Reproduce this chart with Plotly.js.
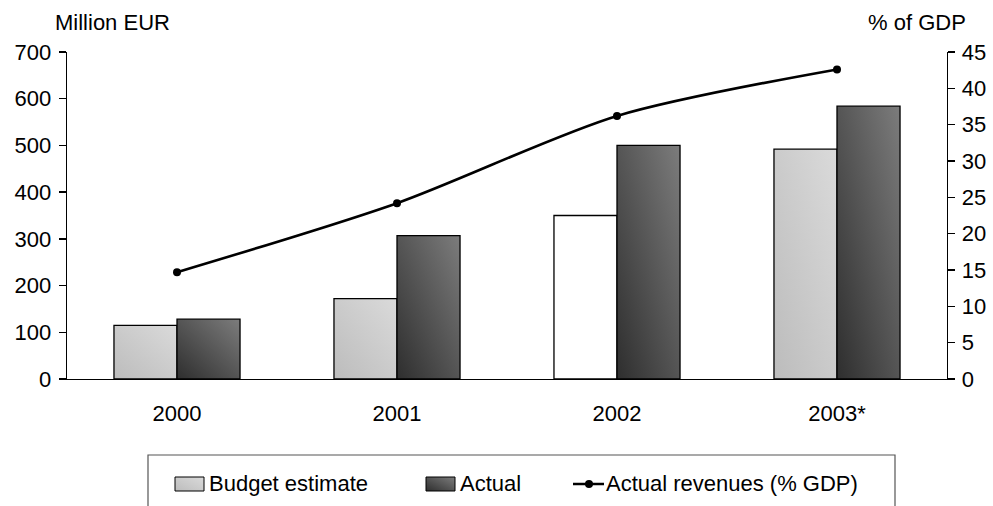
<!DOCTYPE html>
<html>
<head>
<meta charset="utf-8">
<script src="https://cdn.plot.ly/plotly-3.0.1.min.js"></script>
<style>
html,body{margin:0;padding:0;background:#fff;}
#chart{width:993px;height:506px;}
</style>
</head>
<body>
<div id="chart"></div>
<script>
// ---- data ----
var years = ['2000', '2001', '2002', '2003*'];
var budgetEstimate = [115, 172, 350, 492];
var actual = [128, 307, 500, 584];
var revenuesPctGDP = [14.7, 24.2, 36.2, 42.6];
var budgetFill = ['rgb(201,201,201)', 'rgb(201,201,201)', 'rgb(255,255,255)', 'rgb(201,201,201)'];
var legendLabels = ['Budget estimate', 'Actual', 'Actual revenues (% GDP)'];
var leftTitle = 'Million EUR';
var rightTitle = '% of GDP';

var FONT = 'Liberation Sans, Arial, sans-serif';
var FS = 22;
var L = 67, R = 947, T = 52, B = 379;
function px(x){ return (x - L) / (R - L); }
function py(y){ return (B - y) / (B - T); }

var traces = [
  {
    type: 'bar', name: legendLabels[0], x: years, y: budgetEstimate,
    marker: {color: budgetFill, line: {color: '#000', width: 1.3}},
    hoverinfo: 'skip'
  },
  {
    type: 'bar', name: legendLabels[1], x: years, y: actual,
    marker: {color: 'rgb(85,85,85)', line: {color: '#000', width: 1.3}},
    hoverinfo: 'skip'
  },
  {
    type: 'scatter', mode: 'lines+markers', name: legendLabels[2], x: years, y: revenuesPctGDP,
    yaxis: 'y2',
    line: {color: '#000', width: 2.6, shape: 'spline', smoothing: 0.8},
    marker: {color: '#000', size: 8},
    hoverinfo: 'skip', cliponaxis: false
  }
];

var shapes = [
  {type: 'path', xref: 'paper', yref: 'paper',
   path: 'M' + px(148) + ',' + py(530) + ' L' + px(148) + ',' + py(455) + ' L' + px(895) + ',' + py(455) + ' L' + px(895) + ',' + py(530),
   line: {color: '#555', width: 1.2}},
  {type: 'rect', xref: 'paper', yref: 'paper', x0: px(175), x1: px(204), y0: py(491), y1: py(477),
   fillcolor: 'rgb(201,201,201)', line: {color: '#000', width: 1}},
  {type: 'rect', xref: 'paper', yref: 'paper', x0: px(426), x1: px(455), y0: py(491), y1: py(477),
   fillcolor: 'rgb(85,85,85)', line: {color: '#000', width: 1}},
  {type: 'line', xref: 'paper', yref: 'paper', x0: px(573), x1: px(604), y0: py(484), y1: py(484),
   line: {color: '#000', width: 2.5}},
  {type: 'circle', xref: 'paper', yref: 'paper', x0: px(585), x1: px(593), y0: py(488), y1: py(480),
   fillcolor: '#000', line: {color: '#000', width: 0}}
];

var annotations = [
  {text: leftTitle, xref: 'paper', yref: 'paper', x: px(112), y: py(22), xanchor: 'center', yanchor: 'middle',
   showarrow: false, font: {family: FONT, size: FS, color: '#000'}},
  {text: rightTitle, xref: 'paper', yref: 'paper', x: px(917), y: py(22), xanchor: 'center', yanchor: 'middle',
   showarrow: false, font: {family: FONT, size: FS, color: '#000'}},
  {text: legendLabels[0], xref: 'paper', yref: 'paper', x: px(207), y: py(483), xanchor: 'left', yanchor: 'middle',
   showarrow: false, font: {family: FONT, size: FS, color: '#000'}},
  {text: legendLabels[1], xref: 'paper', yref: 'paper', x: px(458), y: py(483), xanchor: 'left', yanchor: 'middle',
   showarrow: false, font: {family: FONT, size: FS, color: '#000'}},
  {text: legendLabels[2], xref: 'paper', yref: 'paper', x: px(604), y: py(483), xanchor: 'left', yanchor: 'middle',
   showarrow: false, font: {family: FONT, size: FS, color: '#000'}}
];

var layout = {
  width: 993, height: 506,
  margin: {l: L, r: 993 - R, t: T, b: 506 - B, pad: 0},
  paper_bgcolor: '#fff', plot_bgcolor: '#fff',
  showlegend: false,
  barmode: 'group', bargap: 0.427, bargroupgap: 0,
  font: {family: FONT, size: FS, color: '#000'},
  xaxis: {
    type: 'category', showline: true, linecolor: '#000', linewidth: 1.3,
    ticks: '', showgrid: false, zeroline: false,
    tickfont: {family: FONT, size: FS, color: '#000'},
    ticklabelstandoff: 14
  },
  yaxis: {
    range: [0, 700], dtick: 100, tick0: 0, showline: true, linecolor: '#000', linewidth: 1.3,
    ticks: 'outside', ticklen: 7, tickwidth: 1.3, tickcolor: '#000',
    showgrid: false, zeroline: false,
    tickfont: {family: FONT, size: FS, color: '#000'},
    ticklabelstandoff: 3
  },
  yaxis2: {
    range: [0, 45], dtick: 5, tick0: 0, overlaying: 'y', side: 'right',
    showline: true, linecolor: '#000', linewidth: 1.3,
    ticks: 'outside', ticklen: 7, tickwidth: 1.3, tickcolor: '#000',
    showgrid: false, zeroline: false,
    tickfont: {family: FONT, size: FS, color: '#000'},
    ticklabelstandoff: 2
  },
  shapes: shapes,
  annotations: annotations
};

function addGradients(gd){
  var svg = gd.querySelector('svg.main-svg');
  if (!svg) return;
  var ns = 'http://www.w3.org/2000/svg';
  var defs = svg.querySelector('defs');
  if (!defs) { defs = document.createElementNS(ns, 'defs'); svg.insertBefore(defs, svg.firstChild); }
  function grad(id, c0, c1){
    var g = document.createElementNS(ns, 'linearGradient');
    g.setAttribute('id', id);
    g.setAttribute('x1', '0'); g.setAttribute('y1', '1');
    g.setAttribute('x2', '1'); g.setAttribute('y2', '0');
    var s0 = document.createElementNS(ns, 'stop'); s0.setAttribute('offset', '0'); s0.setAttribute('stop-color', c0);
    var s1 = document.createElementNS(ns, 'stop'); s1.setAttribute('offset', '1'); s1.setAttribute('stop-color', c1);
    g.appendChild(s0); g.appendChild(s1); defs.appendChild(g);
  }
  grad('gLight', '#bcbcbc', '#dadada');
  grad('gDark', '#2e2e2e', '#7c7c7c');
  var paths = gd.querySelectorAll('path');
  paths.forEach(function(p){
    var f = (p.style.fill || '').replace(/\s/g, '');
    if (f === 'rgb(201,201,201)') p.style.fill = 'url(#gLight)';
    else if (f === 'rgb(85,85,85)') p.style.fill = 'url(#gDark)';
  });
}

var gd = document.getElementById('chart');
Plotly.newPlot(gd, traces, layout, {displayModeBar: false, staticPlot: true}).then(function(){ addGradients(gd); });
</script>
</body>
</html>
